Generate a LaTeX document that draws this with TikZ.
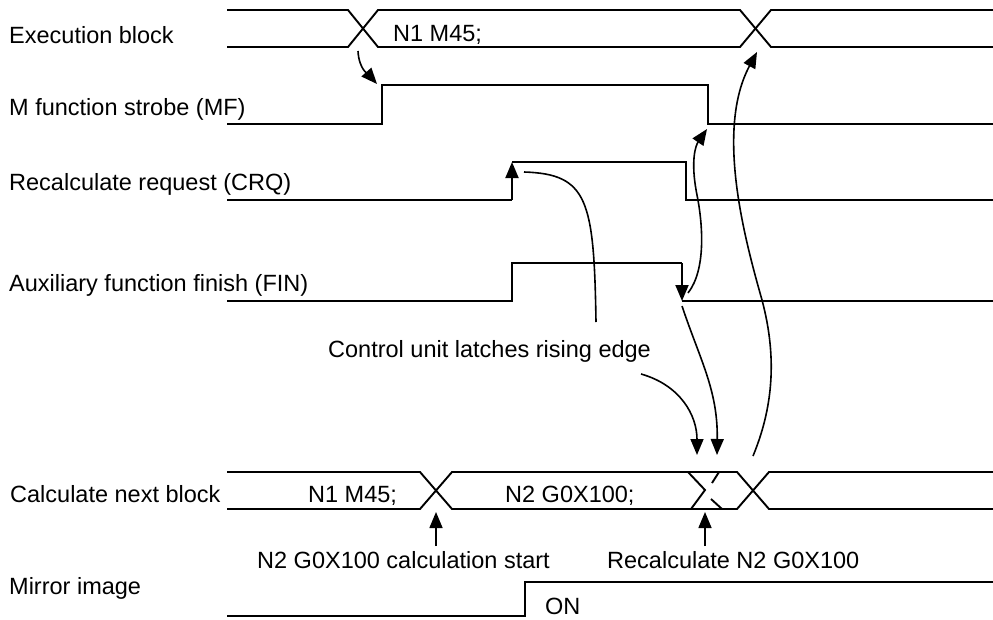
\documentclass[tikz,border=0pt]{standalone}
\usepackage{fontspec}
\setmainfont{Liberation Sans}
\usetikzlibrary{arrows.meta}

\begin{document}
\begin{tikzpicture}[
    x=1pt,y=-1pt,
    font=\fontsize{23.5}{27}\selectfont,
    sig/.style={line width=1.9pt},
    link/.style={line width=1.6pt},
    arrow/.style={link,-{Triangle[length=16pt,width=13pt]}},
    edgearrow/.style={sig,-{Triangle[length=16pt,width=13pt]}},
    lbl/.style={anchor=base west,inner sep=0pt}
]
\useasboundingbox (0,0) rectangle (993,619);

\node[lbl] (exlbl) at (9,43) {Execution block};
\node[lbl] (mflbl) at (9,115) {M function strobe (MF)};
\node[lbl] (crqlbl) at (9,190) {Recalculate request (CRQ)};
\node[lbl] (finlbl) at (9,291) {Auxiliary function finish (FIN)};
\node[lbl] (calclbl) at (10,502) {Calculate next block};
\node[lbl] (mirlbl) at (9,594) {Mirror image};

\node[lbl] (exblk) at (393,41) {N1 M45;};
\node[lbl] (calcold) at (308,502) {N1 M45;};
\node[lbl] (calcnew) at (505,502) {N2 G0X100;};
\node[lbl] (latch) at (328,357) {Control unit latches rising edge};
\node[lbl] (startlbl) at (257,568) {N2 G0X100 calculation start};
\node[lbl] (recalclbl) at (607,568) {Recalculate N2 G0X100};
\node[lbl] (onlbl) at (545,614) {ON};

\draw[sig] (227,10) -- (348,10) -- (378,47) -- (740,47) -- (771,10) -- (993,10);
\draw[sig] (227,47) -- (348,47) -- (378,10) -- (740,10) -- (771,47) -- (993,47);

\draw[sig] (227,124) -- (382,124) -- (382,85) -- (708,85) -- (708,124) -- (993,124);

\draw[sig] (227,200) -- (512,200);
\draw[edgearrow] (512,200) -- (512,162);
\draw[sig] (512,162) -- (686,162) -- (686,200) -- (993,200);

\draw[sig] (227,301) -- (512,301) -- (512,263) -- (682,263);
\draw[edgearrow] (682,263) -- (682,301);
\draw[sig] (682,301) -- (993,301);

\draw[sig] (227,472) -- (420,472) -- (452,509) -- (737,509) -- (769,472) -- (993,472);
\draw[sig] (227,509) -- (420,509) -- (452,472) -- (737,472) -- (769,509) -- (993,509);
\draw[sig] (688,472) -- (705,490) -- (691,509);
\draw[sig] (712,483) -- (719,472);
\draw[sig] (711,499) -- (722,509);

\draw[sig] (227,616) -- (525,616) -- (525,582) -- (993,582);

\coordinate (exA) at (358,51);
\coordinate (mfA) at (377,84);
\coordinate (latchA) at (596,322);
\coordinate (crqA) at (524,172);
\coordinate (finB) at (688,293);
\coordinate (mfB) at (707,129);
\coordinate (latchB) at (641,374);
\coordinate (cxA) at (697,455);
\coordinate (finC) at (682,306);
\coordinate (cxB) at (717,455);
\coordinate (cxC) at (753,456);
\coordinate (exB) at (757,52);
\coordinate (startA) at (436,546);
\coordinate (calcX1) at (436,512);
\coordinate (recalcA) at (705,546);
\coordinate (calcX2) at (705,512);

\draw[arrow] (exA) .. controls (359,70) and (369,75) .. (mfA);
\draw[link] (latchA) .. controls (594,200) and (588,174) .. (crqA);
\draw[arrow] (finB) .. controls (706,270) and (703,225) .. (697,195) .. controls (690,160) and (696,145) .. (mfB);
\draw[arrow] (latchB) .. controls (680,385) and (697,415) .. (cxA);
\draw[arrow] (finC) .. controls (700,360) and (718,390) .. (cxB);
\draw[arrow] (cxC) .. controls (772,410) and (778,360) .. (762,300) .. controls (745,240) and (715,130) .. (exB);
\draw[arrow] (startA) -- (calcX1);
\draw[arrow] (recalcA) -- (calcX2);
\end{tikzpicture}
\end{document}
